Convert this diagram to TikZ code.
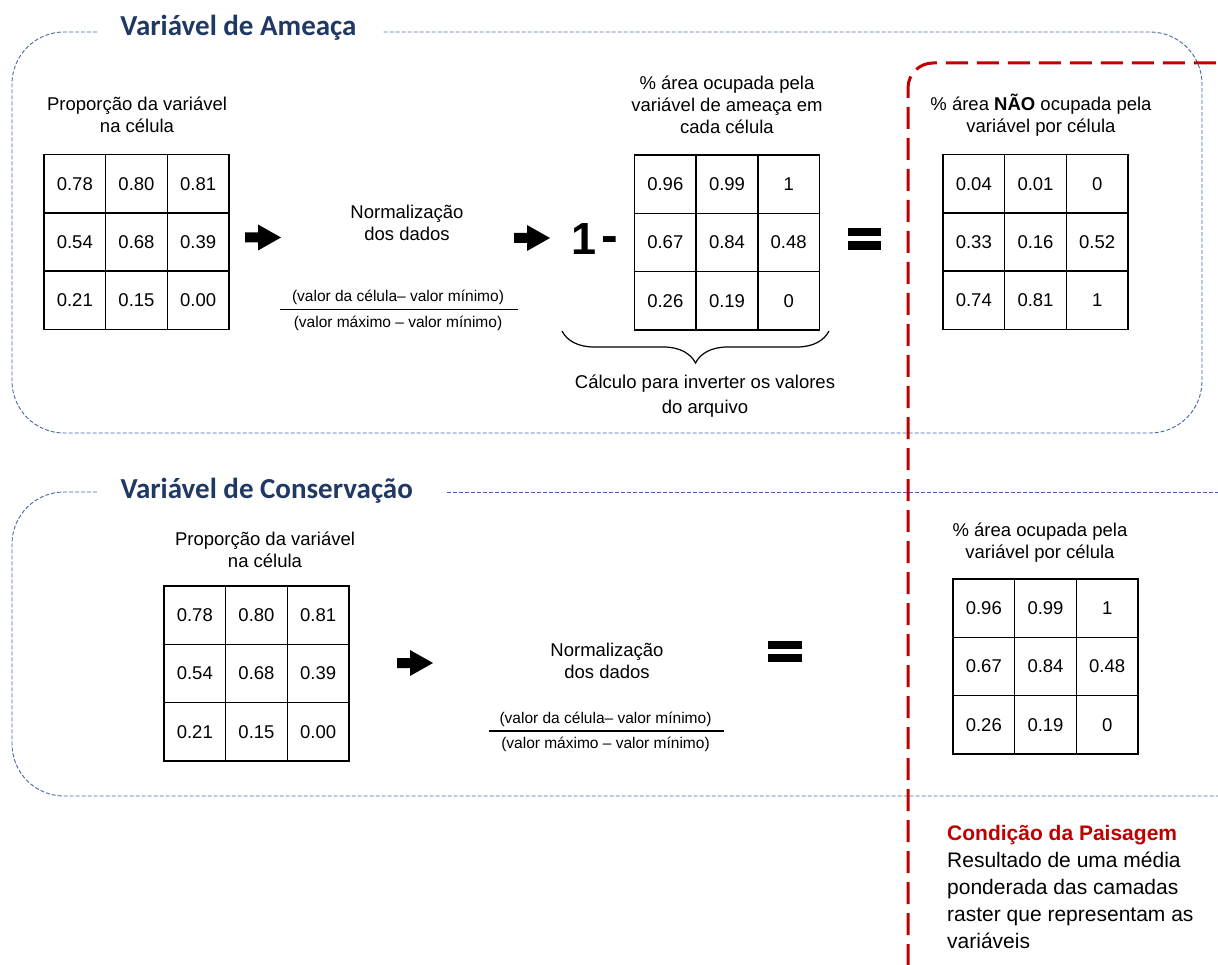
\documentclass[tikz,border=0pt]{standalone}
\usepackage{fontspec}
\setmainfont{Liberation Sans}
\newfontfamily\ttlfont{Carlito}
\usetikzlibrary{matrix,decorations.pathreplacing}
\definecolor{navy}{RGB}{31,56,100}
\definecolor{panelblue}{RGB}{68,100,170}
\definecolor{darkred}{RGB}{192,0,0}
\newcommand\mybody{\fontsize{18.5}{22}\selectfont}
\newcommand\myfrac{\fontsize{15.5}{18}\selectfont}
\newcommand\mycond{\fontsize{21}{27}\selectfont}
\newcommand\blockarrow[2]{\fill (#1,#2) ++(0,-5) -- ++(13,0) -- ++(0,-8) -- ++(23,13) -- ++(-23,13) -- ++(0,-8) -- ++(-13,0) -- cycle;}
\begin{document}
\begin{tikzpicture}[x=1pt,y=-1pt, font=\mybody,
  panel/.style={draw=panelblue, line width=0.9pt, dash pattern=on 4pt off 2pt, rounded corners=52pt},
  title/.style={font=\ttlfont\bfseries\fontsize{29}{34}\selectfont, text=navy, anchor=base, inner sep=0pt},
  cellgrid/.style={matrix of nodes, column sep=-1.5pt, row sep=-1.5pt,
     nodes={draw, line width=1.5pt, minimum width=61.7pt, minimum height=58.3pt, inner sep=0pt, anchor=center}},
  txt/.style={align=center, inner sep=0pt},
  fracbar/.style={line width=1.3pt},
  redline/.style={draw=darkred, line width=3pt, dash pattern=on 22pt off 9pt, rounded corners=25pt},
  bracestyle/.style={decorate, decoration={brace, mirror, amplitude=32pt}, line width=1.2pt}
]
\useasboundingbox (0,0) rectangle (1218,965);

% panels
\draw[panel] (97,32) -- (12,32) -- (12,433) -- (1202,433) -- (1202,32) -- (383,32);
\draw[panel] (97,492) -- (12,492) -- (12,796) -- (1218,796);
\draw[panel] (447,492) -- (1218,492);
\node[title] (title1) at (238.5,36) {Variável de Ameaça};
\node[title] (title2) at (266.7,498) {Variável de Conservação};

% top panel
\node[txt] (t1) at (137,115) {Proporção da variável\\na célula};
\matrix (g1) [cellgrid] at (136.5,242) {0.78 & 0.80 & 0.81\\ 0.54 & 0.68 & 0.39\\ 0.21 & 0.15 & 0.00\\};
\blockarrow{245}{237.5}
\node[txt] (t2) at (407,223) {Normalização\\dos dados};
\node[txt,font=\myfrac] (f1n) at (398,297) {(valor da célula– valor mínimo)};
\node[txt,font=\myfrac] (f1d) at (398,323) {(valor máximo – valor mínimo)};
\draw[fracbar] (280,309.5) -- (518,309.5);
\blockarrow{514}{238}
\node[font=\bfseries\fontsize{45}{45}\selectfont, anchor=base, inner sep=0pt] (one) at (584,255) {1};
\node[font=\bfseries\fontsize{50}{50}\selectfont, anchor=base, inner sep=0pt] (minus) at (610,253) {-};
\node[txt] (t3) at (727,105) {\% área ocupada pela\\variável de ameaça em\\cada célula};
\matrix (g2) [cellgrid] at (727,242.5) {0.96 & 0.99 & 1\\ 0.67 & 0.84 & 0.48\\ 0.26 & 0.19 & 0\\};
\draw[bracestyle] (562,331) -- (829,331);
\node[txt,font=\fontsize{18.5}{25}\selectfont] (t5) at (705,396) {Cálculo para inverter os valores\\do arquivo};
\fill (848,228) rectangle (881,236.5);
\fill (848,241.5) rectangle (881,250);
\node[txt] (t4) at (1041,115) {\% área \textbf{NÃO} ocupada pela\\variável por célula};
\matrix (g3) [cellgrid] at (1035.5,242) {0.04 & 0.01 & 0\\ 0.33 & 0.16 & 0.52\\ 0.74 & 0.81 & 1\\};

% bottom panel
\node[txt] (t6) at (265,550) {Proporção da variável\\na célula};
\matrix (g4) [cellgrid] at (256.5,673.5) {0.78 & 0.80 & 0.81\\ 0.54 & 0.68 & 0.39\\ 0.21 & 0.15 & 0.00\\};
\blockarrow{397}{663}
\node[txt] (t7) at (607,661) {Normalização\\dos dados};
\node[txt,font=\myfrac] (f2n) at (605.5,719) {(valor da célula– valor mínimo)};
\node[txt,font=\myfrac] (f2d) at (605.5,744) {(valor máximo – valor mínimo)};
\draw[fracbar] (489,731) -- (724,731);
\fill (768,641) rectangle (802,649);
\fill (768,654) rectangle (802,662);
\node[txt] (t8) at (1040,543) {\% área ocupada pela\\variável por célula};
\matrix (g5) [cellgrid] at (1045.5,666.5) {0.96 & 0.99 & 1\\ 0.67 & 0.84 & 0.48\\ 0.26 & 0.19 & 0\\};

% red dashed boundary and conclusion
\draw[redline] (908,966) -- (908,63) -- (1220,63);
\node[anchor=base west, align=left, inner sep=0pt, font=\mycond] (cond) at (947,948)
  {\textcolor{darkred}{\textbf{Condição da Paisagem}}\\Resultado de uma média\\ponderada das camadas\\raster que representam as\\variáveis};
\end{tikzpicture}
\end{document}
